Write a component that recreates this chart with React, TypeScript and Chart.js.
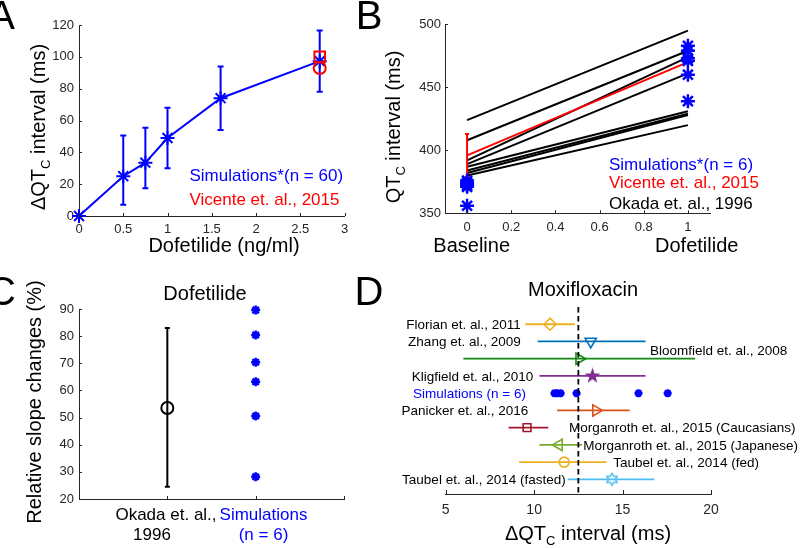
import React, { useEffect, useRef } from 'react';
import { Chart, registerables } from 'chart.js';
Chart.register(...registerables);

const FONT = "'Liberation Sans', Arial, Helvetica, sans-serif";
const AX = '#262626';
const BLUE = '#0000ff';
const RED = '#ff0000';
const BLACK = '#000000';

// ---------- Panel A : dQTc vs dofetilide concentration ----------
const doseA = [0, 0.5, 0.75, 1, 1.6, 2.72];
const simMeanA = [0, 25, 33.5, 49, 74, 97.3];
const simLowA = [null, 7, 17.5, 30, 54, 78];
const simHighA = [null, 50.5, 55.5, 68, 94, 116.5];
const vicenteDoseA = [2.72];
const vicenteSquareA = [100];
const vicenteCircleA = [93];
const xTicksA = [0, 0.5, 1, 1.5, 2, 2.5, 3];
const yTicksA = [0, 20, 40, 60, 80, 100, 120];

// ---------- Panel B : QTc baseline vs dofetilide ----------
const okadaBaseB = [424, 408, 392, 389, 387, 384, 382, 380];
const okadaDofB = [495, 479, 474, 461, 431, 429, 428, 420];
const vicenteMeanB = [396, 470];
const vicenteErrB = [17, 8.5];
const simBaseB = [356, 371, 372, 373.5, 374.5, 376];
const simDofB = [439, 460, 471, 473, 479, 483];
const xTicksB = [0, 0.2, 0.4, 0.6, 0.8, 1];
const yTicksB = [350, 400, 450, 500];

// ---------- Panel C : relative slope changes ----------
const okadaSlopeC = [53.5];
const okadaSlopeLowC = [24.5];
const okadaSlopeHighC = [83];
const simSlopeC = [28.2, 50.6, 63.2, 70.4, 80.4, 89.6];
const yTicksC = [20, 30, 40, 50, 60, 70, 80, 90];
const xTicksC = [0, 1, 2, 3];

// ---------- Panel D : moxifloxacin dQTc ----------
const moxiStudies = [
  'Florian et. al., 2011',
  'Zhang et. al., 2009',
  'Bloomfield et. al., 2008',
  'Kligfield et. al., 2010',
  'Simulations (n = 6)',
  'Panicker et. al., 2016',
  'Morganroth et. al., 2015 (Caucasians)',
  'Morganroth et. al., 2015 (Japanese)',
  'Taubel et. al., 2014 (fed)',
  'Taubel et. al., 2014 (fasted)',
];
const moxiMean = [10.9, 13.2, 12.55, 13.3, null, 13.5, 9.6, 11.4, 11.7, 14.4];
const moxiLow = [9.5, 10.2, 6.0, 10.3, null, 11.3, 8.55, 10.3, 9.15, 11.9];
const moxiHigh = [12.3, 16.3, 19.1, 16.3, null, 15.4, 10.8, 12.7, 14.1, 16.8];
const moxiSim = [11.15, 11.3, 11.5, 12.4, 15.9, 17.55];
const moxiRef = [12.5];
const xTicksD = [5, 10, 15, 20];

// styles for panel D rows
const moxiColors = ['#EDB120', '#0072BD', '#138a13', '#7E2F8E', BLUE, '#D95319', '#A2142F', '#77AC30', '#EDB120', '#4DBEEE'];
const moxiMarkers = ['rectRot', 'triangle', 'triangle', 'pentagram', 'star', 'triangle', 'rect', 'triangle', 'circle', 'hexagram'];
const moxiRot = [0, 180, 90, 0, 0, 90, 0, 270, 0, 0];
const moxiRadius = [6, 6.5, 6.5, 0, 4, 6.5, 5.5, 6.5, 5, 0];
// label layout: x pixel, alignment, row offset
const moxiLabelLayout: [number, 'left' | 'right', number][] = [
  [520.7, 'right', 0],
  [520.7, 'right', 0],
  [650, 'left', -0.5],
  [533.3, 'right', 0],
  [526, 'right', 0],
  [528.3, 'right', 0],
  [569, 'left', 0],
  [583.3, 'left', 0],
  [613.3, 'left', 0],
  [565.7, 'right', 0],
];

type Part = { t: string; sub?: boolean };
type TextItem = {
  parts: string | Part[];
  x: number;
  y?: number;
  yv?: number;
  size: number;
  color?: string;
  align?: 'left' | 'center' | 'right';
  rot?: number;
};

function drawRich(ctx: CanvasRenderingContext2D, item: TextItem, y: number) {
  const parts: Part[] = typeof item.parts === 'string' ? [{ t: item.parts }] : item.parts;
  const subSize = item.size * 0.65;
  ctx.save();
  ctx.translate(item.x, y);
  if (item.rot) ctx.rotate((item.rot * Math.PI) / 180);
  ctx.textBaseline = 'alphabetic';
  ctx.textAlign = 'left';
  ctx.fillStyle = item.color || BLACK;
  const widths = parts.map((p) => {
    ctx.font = `${p.sub ? subSize : item.size}px ${FONT}`;
    return ctx.measureText(p.t).width;
  });
  const total = widths.reduce((a, b) => a + b, 0);
  let x0 = item.align === 'right' ? -total : item.align === 'left' ? 0 : -total / 2;
  parts.forEach((p, i) => {
    ctx.font = `${p.sub ? subSize : item.size}px ${FONT}`;
    ctx.fillText(p.t, x0, p.sub ? item.size * 0.25 : 0);
    x0 += widths[i];
  });
  ctx.restore();
}

const extras = {
  id: 'extras',
  beforeDatasetDraw(chart: any, args: any) {
    const ds = chart.data.datasets[args.index];
    if (!ds.errY && !ds.errX) return;
    const ctx = chart.ctx as CanvasRenderingContext2D;
    const xs = chart.scales.x;
    const ys = chart.scales.y;
    ctx.save();
    ctx.strokeStyle = ds.errColor || ds.borderColor;
    ctx.lineWidth = ds.errWidth ?? 2;
    const cap = ds.capHalf ?? 0;
    ds.data.forEach((p: any, i: number) => {
      if (ds.errY && ds.errY[i] && ds.errY[i][0] != null) {
        const px = xs.getPixelForValue(p.x);
        const y1 = ys.getPixelForValue(ds.errY[i][0]);
        const y2 = ys.getPixelForValue(ds.errY[i][1]);
        ctx.beginPath();
        ctx.moveTo(px, y1);
        ctx.lineTo(px, y2);
        if (cap) {
          ctx.moveTo(px - cap, y1);
          ctx.lineTo(px + cap, y1);
          ctx.moveTo(px - cap, y2);
          ctx.lineTo(px + cap, y2);
        }
        ctx.stroke();
      }
      if (ds.errX && ds.errX[i]) {
        const py = ys.getPixelForValue(p.y);
        const x1 = xs.getPixelForValue(ds.errX[i][0]);
        const x2 = xs.getPixelForValue(ds.errX[i][1]);
        ctx.beginPath();
        ctx.moveTo(x1, py);
        ctx.lineTo(x2, py);
        ctx.stroke();
      }
    });
    ctx.restore();
  },
  afterDraw(chart: any, _args: any, opts: any) {
    const ctx = chart.ctx as CanvasRenderingContext2D;
    ctx.save();
    ctx.strokeStyle = AX;
    ctx.lineWidth = 1;
    const tl = opts.tickLen || 3;
    const xs = chart.scales.x;
    const ys = chart.scales.y;
    if (xs && xs.options.display) {
      ctx.beginPath();
      xs.ticks.forEach((t: any) => {
        const px = Math.round(xs.getPixelForValue(t.value)) + 0.5;
        ctx.moveTo(px, xs.top);
        ctx.lineTo(px, xs.top - tl);
      });
      ctx.stroke();
    }
    if (ys && ys.options.display) {
      ctx.beginPath();
      ys.ticks.forEach((t: any) => {
        const py = Math.round(ys.getPixelForValue(t.value)) + 0.5;
        ctx.moveTo(ys.right, py);
        ctx.lineTo(ys.right + tl, py);
      });
      ctx.stroke();
    }
    ctx.restore();
    (opts.texts || []).forEach((it: TextItem) => {
      const y = it.yv != null ? ys.getPixelForValue(it.yv) + (it.size * 0.716) / 2 : (it.y as number);
      drawRich(ctx, it, y);
    });
  },
};

function linScale(o: {
  axis: 'x' | 'y';
  min: number;
  max: number;
  ticks: number[];
  size: number;
  pad: number;
  fit: number;
  display?: boolean;
  labels?: boolean;
  reverse?: boolean;
}) {
  return {
    type: 'linear',
    display: o.display ?? true,
    min: o.min,
    max: o.max,
    reverse: !!o.reverse,
    grid: { display: false, drawTicks: false },
    border: { display: true, color: AX, width: 1 },
    ticks: {
      display: o.labels ?? true,
      color: AX,
      font: { size: o.size, family: FONT },
      padding: o.pad,
      autoSkip: false,
      maxRotation: 0,
      minRotation: 0,
      callback: (v: any) => String(v),
    },
    afterBuildTicks: (s: any) => {
      s.ticks = o.ticks.map((v) => ({ value: v }));
    },
    afterFit: (s: any) => {
      if (o.axis === 'x') s.height = o.fit;
      else s.width = o.fit;
    },
  };
}

function baseOptions(padding: any, scales: any, extrasOpts: any) {
  return {
    responsive: false,
    animation: false,
    events: [],
    devicePixelRatio: 1,
    layout: { padding },
    plugins: { legend: { display: false }, tooltip: { enabled: false }, title: { display: false }, extras: extrasOpts },
    scales,
  };
}

const subTitle = (pre: string): Part[] => [{ t: pre }, { t: 'C', sub: true }, { t: ' interval (ms)' }];

function starCanvas(n: number, rOut: number, rIn: number, fill: string | null, stroke: string, lw: number) {
  const size = Math.ceil(2 * rOut + lw + 2);
  const c = document.createElement('canvas');
  c.width = size;
  c.height = size;
  const g = c.getContext('2d')!;
  g.translate(size / 2, size / 2);
  g.beginPath();
  for (let i = 0; i < 2 * n; i++) {
    const r = i % 2 === 0 ? rOut : rIn;
    const a = -Math.PI / 2 + (i * Math.PI) / n;
    g.lineTo(r * Math.cos(a), r * Math.sin(a));
  }
  g.closePath();
  if (fill) {
    g.fillStyle = fill;
    g.fill();
  }
  g.strokeStyle = stroke;
  g.lineWidth = lw;
  g.lineJoin = 'miter';
  g.stroke();
  return c;
}

function configA(): any {
  return {
    type: 'scatter',
    data: {
      datasets: [
        {
          data: vicenteDoseA.map((x, i) => ({ x, y: vicenteSquareA[i] })),
          pointStyle: 'rect', pointRadius: 7.5, borderColor: RED, backgroundColor: 'rgba(0,0,0,0)', borderWidth: 2, clip: false,
        },
        {
          data: vicenteDoseA.map((x, i) => ({ x, y: vicenteCircleA[i] })),
          pointStyle: 'circle', pointRadius: 6, borderColor: RED, backgroundColor: 'rgba(0,0,0,0)', borderWidth: 2, clip: false,
        },
        {
          data: doseA.map((x, i) => ({ x, y: simMeanA[i] })),
          showLine: true, borderColor: BLUE, backgroundColor: BLUE, borderWidth: 2,
          pointStyle: 'star', pointRadius: 7, pointBorderWidth: 2, clip: false,
          errY: doseA.map((_, i) => [simLowA[i], simHighA[i]]), capHalf: 3, errWidth: 2,
        },
      ],
    },
    options: baseOptions(
      { left: 0, top: 25, right: 455.5, bottom: 292 },
      {
        x: linScale({ axis: 'x', min: 0, max: 3, ticks: xTicksA, size: 13, pad: 6, fit: 40 }),
        y: linScale({ axis: 'y', min: 0, max: 120, ticks: yTicksA, size: 13, pad: 5, fit: 79 }),
      },
      {
        tickLen: 3,
        texts: [
          { parts: 'A', x: 1.5, y: 28.5, size: 40 },
          { parts: 'B', x: 369, y: 28.5, size: 40 },
          { parts: 'Dofetilide (ng/ml)', x: 224, y: 252, size: 20, align: 'center' },
          { parts: subTitle('ΔQT'), x: 45, y: 127, size: 20, align: 'center', rot: -90 },
          { parts: 'Simulations*(n = 60)', x: 189.5, y: 181, size: 17, color: BLUE, align: 'left' },
          { parts: 'Vicente et. al., 2015', x: 189.5, y: 205, size: 17, color: RED, align: 'left' },
        ],
      }
    ),
  };
}

function configB(): any {
  const okadaSets = okadaBaseB.map((b, i) => ({
    data: [{ x: 0, y: b }, { x: 1, y: okadaDofB[i] }],
    showLine: true, borderColor: BLACK, borderWidth: 2, pointRadius: 0, clip: false,
  }));
  return {
    type: 'scatter',
    data: {
      datasets: [
        {
          data: simBaseB.map((y) => ({ x: 0, y })),
          pointStyle: 'star', pointRadius: 7, borderColor: BLUE, borderWidth: 2.5, clip: false,
        },
        {
          data: simDofB.map((y) => ({ x: 1, y })),
          pointStyle: 'star', pointRadius: 7, borderColor: BLUE, borderWidth: 2.5, clip: false,
        },
        {
          data: vicenteMeanB.map((y, i) => ({ x: i, y })),
          showLine: true, borderColor: RED, borderWidth: 2, pointRadius: 0, clip: false,
          errY: vicenteMeanB.map((m, i) => [m - vicenteErrB[i], m + vicenteErrB[i]]), capHalf: 2, errWidth: 2,
        },
        ...okadaSets,
      ],
    },
    options: baseOptions(
      { left: 400, top: 24.3, right: 90, bottom: 294.7 },
      {
        x: linScale({ axis: 'x', min: -0.1, max: 1.1, ticks: xTicksB, size: 13, pad: 6, fit: 40 }),
        y: linScale({ axis: 'y', min: 350, max: 500, ticks: yTicksB, size: 13, pad: 4, fit: 45 }),
      },
      {
        tickLen: 3,
        texts: [
          { parts: subTitle('QT'), x: 400, y: 127, size: 20, align: 'center', rot: -90 },
          { parts: 'Baseline', x: 471.7, y: 252, size: 20, align: 'center' },
          { parts: 'Dofetilide', x: 696.7, y: 252, size: 20, align: 'center' },
          { parts: 'Simulations*(n = 6)', x: 609, y: 170, size: 17, color: BLUE, align: 'left' },
          { parts: 'Vicente et. al., 2015', x: 609, y: 188, size: 17, color: RED, align: 'left' },
          { parts: 'Okada et. al., 1996', x: 609, y: 209, size: 17, color: BLACK, align: 'left' },
        ],
      }
    ),
  };
}

function configC(): any {
  return {
    type: 'scatter',
    data: {
      datasets: [
        {
          data: simSlopeC.map((y) => ({ x: 2, y })),
          pointStyle: 'star', pointRadius: 4.5, borderColor: BLUE, borderWidth: 2.5, clip: false,
        },
        {
          data: okadaSlopeC.map((y) => ({ x: 1, y })),
          pointStyle: 'circle', pointRadius: 6, borderColor: BLACK, backgroundColor: 'rgba(0,0,0,0)', borderWidth: 2, clip: false,
          errY: okadaSlopeC.map((_, i) => [okadaSlopeLowC[i], okadaSlopeHighC[i]]), capHalf: 2.5, errWidth: 2,
        },
      ],
    },
    options: baseOptions(
      { left: 0, top: 309, right: 456, bottom: 9 },
      {
        x: linScale({ axis: 'x', min: 0, max: 3, ticks: xTicksC, size: 17, pad: 6, fit: 40, labels: false }),
        y: linScale({ axis: 'y', min: 20, max: 90, ticks: yTicksC, size: 13, pad: 5, fit: 79 }),
      },
      {
        tickLen: 3,
        texts: [
          { parts: 'C', x: 1.5, y: 305, size: 40 },
          { parts: 'D', x: 369, y: 305, size: 40 },
          { parts: 'Dofetilide', x: 205, y: 300, size: 20, align: 'center' },
          { parts: 'Relative slope changes (%)', x: 41, y: 402, size: 20, align: 'center', rot: -90 },
          { parts: 'Okada et. al.,', x: 166, y: 520, size: 17, align: 'center' },
          { parts: '1996', x: 152, y: 540, size: 17, align: 'center' },
          { parts: 'Simulations', x: 263.5, y: 520, size: 17, align: 'center', color: BLUE },
          { parts: '(n = 6)', x: 263.5, y: 540, size: 17, align: 'center', color: BLUE },
        ],
      }
    ),
  };
}

function configD(): any {
  const penta = starCanvas(5, 6.5, 2.6, '#7E2F8E', '#7E2F8E', 1.2);
  const hexa = starCanvas(6, 6, 3.46, null, '#4DBEEE', 1.5);
  const studySets: any[] = [];
  moxiStudies.forEach((_, i) => {
    if (moxiMean[i] == null) return;
    let style: any = moxiMarkers[i];
    if (style === 'pentagram') style = penta;
    if (style === 'hexagram') style = hexa;
    studySets.push({
      data: [{ x: moxiMean[i], y: i + 1 }],
      pointStyle: style,
      pointRadius: moxiRadius[i] || 6,
      rotation: moxiRot[i],
      borderColor: moxiColors[i],
      backgroundColor: 'rgba(0,0,0,0)',
      borderWidth: 1.6,
      clip: false,
      errX: [[moxiLow[i], moxiHigh[i]]],
      errWidth: 1.8,
    });
  });
  const simRow = moxiStudies.indexOf('Simulations (n = 6)') + 1;
  const texts: TextItem[] = [
    { parts: 'Moxifloxacin', x: 583, y: 295.5, size: 20, align: 'center' },
    { parts: subTitle('ΔQT'), x: 588, y: 540, size: 20, align: 'center' },
  ];
  moxiStudies.forEach((name, i) => {
    const [lx, al, dy] = moxiLabelLayout[i];
    texts.push({ parts: name, x: lx, yv: i + 1 + dy, size: 13.5, align: al, color: i + 1 === simRow ? BLUE : BLACK });
  });
  return {
    type: 'scatter',
    data: {
      datasets: [
        {
          data: [{ x: moxiRef[0], y: 0 }, { x: moxiRef[0], y: 10.85 }],
          showLine: true, borderColor: BLACK, borderWidth: 1.8, borderDash: [5.5, 3.5], pointRadius: 0, clip: false,
        },
        {
          data: moxiSim.map((x) => ({ x, y: simRow })),
          pointStyle: 'star', pointRadius: 4, borderColor: BLUE, borderWidth: 2.5, clip: false,
        },
        ...studySets,
      ],
    },
    options: baseOptions(
      { left: 445.7, top: 307, right: 89, bottom: 14 },
      {
        x: linScale({ axis: 'x', min: 5, max: 20, ticks: xTicksD, size: 14, pad: 8, fit: 40 }),
        y: linScale({ axis: 'y', min: 0, max: 10.85, ticks: [], size: 13, pad: 5, fit: 0, display: false, reverse: true }),
      },
      { tickLen: 4, texts }
    ),
  };
}

export default function App() {
  const rA = useRef<HTMLCanvasElement>(null);
  const rB = useRef<HTMLCanvasElement>(null);
  const rC = useRef<HTMLCanvasElement>(null);
  const rD = useRef<HTMLCanvasElement>(null);
  useEffect(() => {
    document.body.style.margin = '0';
    Chart.defaults.font.family = FONT;
    const charts = [
      new Chart(rA.current!, { ...configA(), plugins: [extras] }),
      new Chart(rB.current!, { ...configB(), plugins: [extras] }),
      new Chart(rC.current!, { ...configC(), plugins: [extras] }),
      new Chart(rD.current!, { ...configD(), plugins: [extras] }),
    ];
    return () => charts.forEach((c) => c.destroy());
  }, []);
  const cs: React.CSSProperties = { position: 'absolute', left: 0, top: 0, width: 800, height: 548 };
  return (
    <div style={{ position: 'relative', width: 800, height: 548, background: '#fff', overflow: 'hidden' }}>
      <canvas ref={rA} width={800} height={548} style={cs} />
      <canvas ref={rB} width={800} height={548} style={cs} />
      <canvas ref={rC} width={800} height={548} style={cs} />
      <canvas ref={rD} width={800} height={548} style={cs} />
    </div>
  );
}
